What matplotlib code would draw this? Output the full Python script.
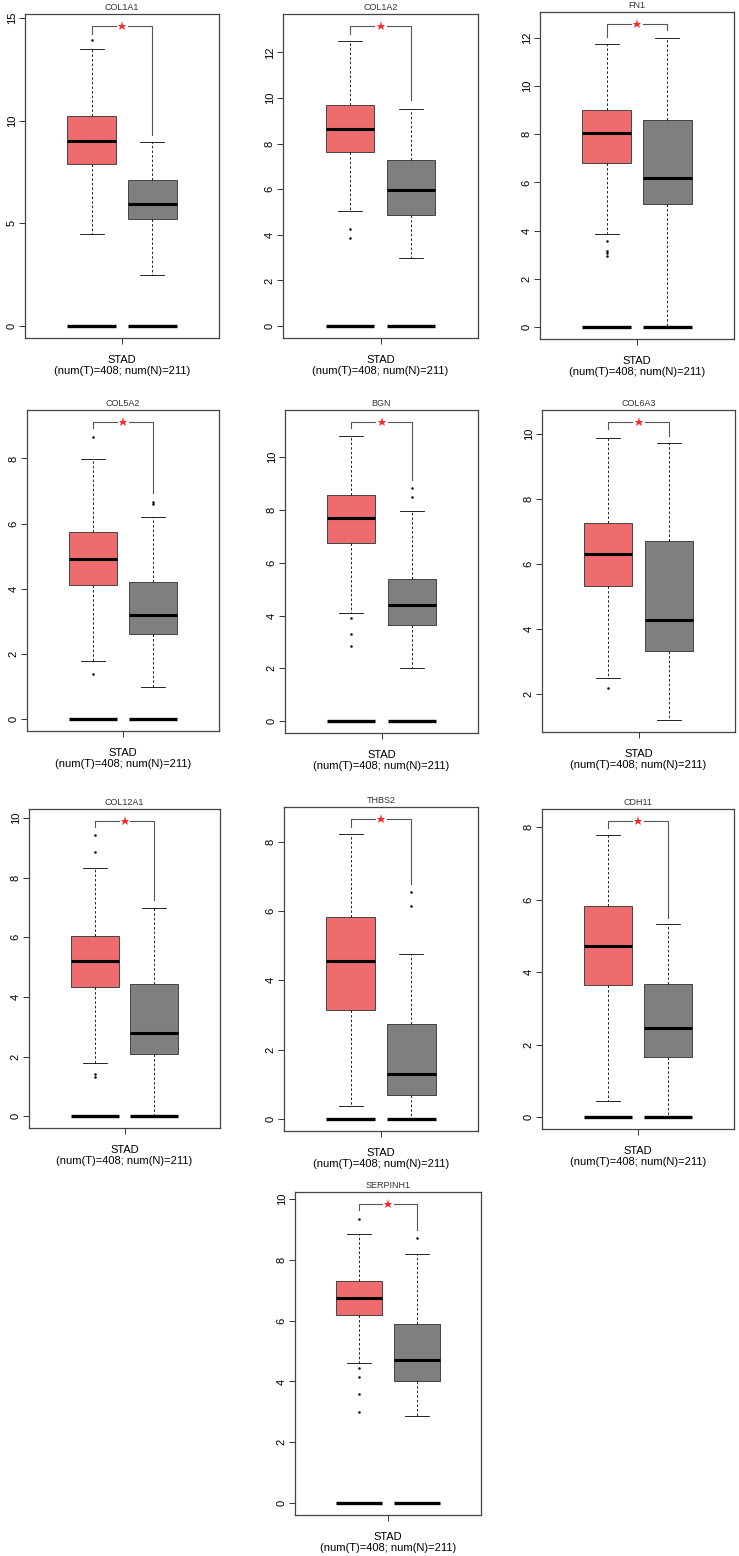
import numpy as np
import matplotlib
matplotlib.use("Agg")
import matplotlib.pyplot as plt
from matplotlib.ticker import MultipleLocator

plt.rcParams['font.family'] = ['Liberation Sans', 'DejaVu Sans']

## values (STAD, tumour vs normal)
genes = ["COL1A1", "COL1A2", "FN1", "COL5A2", "BGN",
         "COL6A3", "COL12A1", "THBS2", "CDH11", "SERPINH1"]

# whislo, q1, median, q3, whishi
tumor_stats = [
    [4.50, 7.90, 9.00, 10.20, 13.50],
    [5.05, 7.65, 8.65, 9.70, 12.50],
    [3.85, 6.80, 8.05, 9.00, 11.75],
    [1.78, 4.10, 4.90, 5.75, 7.98],
    [4.10, 6.75, 7.68, 8.58, 10.82],
    [2.50, 5.32, 6.30, 7.25, 9.88],
    [1.80, 4.33, 5.22, 6.05, 8.33],
    [0.37, 3.15, 4.57, 5.82, 8.23],
    [0.45, 3.65, 4.72, 5.83, 7.80],
    [4.60, 6.20, 6.75, 7.32, 8.85],
]
normal_stats = [
    [2.50, 5.20, 5.95, 7.10, 8.95],
    [2.98, 4.88, 5.97, 7.30, 9.52],
    [0.00, 5.10, 6.20, 8.60, 12.00],
    [0.98, 2.60, 3.18, 4.20, 6.20],
    [2.00, 3.65, 4.40, 5.40, 7.95],
    [1.20, 3.33, 4.28, 6.70, 9.72],
    [0.00, 2.10, 2.80, 4.43, 7.00],
    [0.00, 0.70, 1.30, 2.73, 4.77],
    [0.00, 1.65, 2.45, 3.68, 5.32],
    [2.88, 4.02, 4.70, 5.88, 8.20],
]
# points lying outside the whiskers
tumor_out = [[13.9], [4.25, 3.85], [3.55, 3.15, 3.05, 2.95], [8.65, 1.38],
             [3.9, 3.3, 2.85], [2.2], [9.43, 8.87, 1.4, 1.3], [], [],
             [9.35, 4.45, 4.15, 3.6, 3.0]]
normal_out = [[], [], [], [6.6, 6.65], [8.85, 8.5], [], [], [6.55, 6.15], [],
              [8.72]]

# significance bracket: height, left leg end, right leg end
bracket_y = [14.6, 13.16, 12.58, 9.12, 11.34, 10.37, 9.91, 8.65, 8.18, 9.84]
bracket_l = [14.2, 12.8, 12.05, 8.92, 11.1, 10.15, 9.69, 8.41, 7.99, 9.65]
bracket_r = [9.3, 9.9, 12.35, 6.93, 9.15, 9.93, 7.25, 6.78, 5.51, 8.99]
has_zero = [True, True, True, True, True, False, True, True, True, True]
tick_step = [5, 2, 2, 2, 2, 2, 2, 2, 2, 2]

xlab = "STAD\n(num(T)=408; num(N)=211)"

W, H = 739, 1556
# axes boxes in pixels: left, top, right, bottom
boxes = [(25, 14, 219, 338), (283, 14, 478, 338), (540, 12, 734, 339),
         (27, 410, 219, 731), (285, 410, 478, 733), (542, 410, 735, 732),
         (29, 809, 220, 1128), (284, 807, 478, 1131), (542, 809, 734, 1129),
         (295, 1192, 481, 1515)]

fig = plt.figure(figsize=(W / 100, H / 100), dpi=100)

for i, g in enumerate(genes):
    l, t, r, b = boxes[i]
    ax = fig.add_axes([l / W, 1 - b / H, (r - l) / W, (b - t) / H])

    stats = []
    for s, fl in ((tumor_stats[i], tumor_out[i]), (normal_stats[i], normal_out[i])):
        stats.append(dict(whislo=s[0], q1=s[1], med=s[2], q3=s[3], whishi=s[4],
                          fliers=fl))
    bp = ax.bxp(stats, positions=[1, 2], widths=0.8, capwidths=0.4,
                patch_artist=True, showfliers=True,
                boxprops=dict(edgecolor='#444444', linewidth=0.7),
                medianprops=dict(color='black', linewidth=2.2),
                whiskerprops=dict(color='black', linewidth=0.6, linestyle=(0, (3, 2.5))),
                capprops=dict(color='black', linewidth=0.6),
                flierprops=dict(marker='o', markersize=1.8, markerfacecolor='black',
                                markeredgecolor='none'))
    bp['boxes'][0].set_facecolor('#ee6b6e')
    bp['boxes'][1].set_facecolor('#7f7f7f')

    if has_zero[i]:
        for p in (1, 2):
            ax.hlines(0, p - 0.4, p + 0.4, colors='black', linewidth=2.4, zorder=3)

    # bracket with star
    bc = '#555555'
    ax.plot([1, 1, 1.4], [bracket_l[i], bracket_y[i], bracket_y[i]], color=bc, lw=0.8)
    ax.plot([1.6, 2, 2], [bracket_y[i], bracket_y[i], bracket_r[i]], color=bc, lw=0.8)
    ax.plot(1.5, bracket_y[i], marker='*', color='#ff2a2a', markersize=6.5,
            markeredgewidth=0)

    lo = min([tumor_stats[i][0], normal_stats[i][0]] + tumor_out[i] + normal_out[i]
             + ([0] if has_zero[i] else []))
    hi = bracket_y[i]
    pad = 0.04 * (hi - lo)
    ax.set_ylim(lo - pad, hi + pad)
    ax.set_xlim(-0.1, 3.1)

    ax.yaxis.set_major_locator(MultipleLocator(tick_step[i]))
    ax.set_xticks([1.5])
    ax.set_xticklabels([''])
    ax.tick_params(axis='both', direction='out', length=4, width=0.7, color='#333333',
                   labelsize=8, pad=2)
    for lab in ax.get_yticklabels():
        lab.set_rotation(90)
        lab.set_va('center')
    for sp in ax.spines.values():
        sp.set_color('#444444')
        sp.set_linewidth(0.9)

    ax.set_title(g, fontsize=6.5, color='#333333', pad=3)
    ax.set_xlabel(xlab, fontsize=8, labelpad=6, linespacing=1.15)

fig.savefig("out.png", dpi=100)
